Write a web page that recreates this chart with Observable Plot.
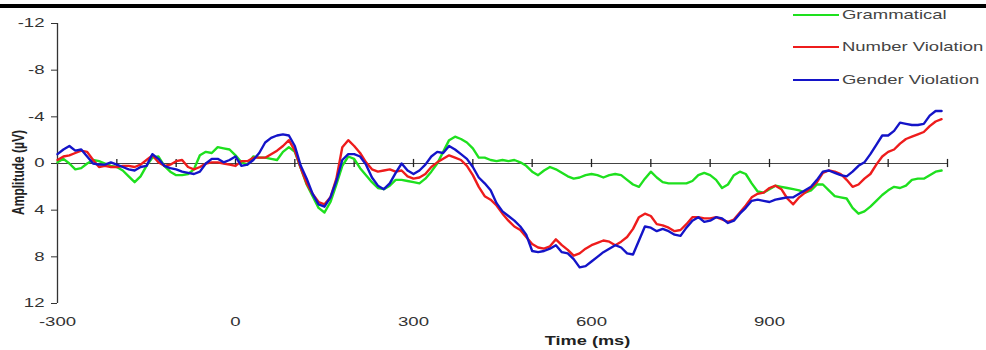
<!DOCTYPE html>
<html>
<head>
<meta charset="utf-8">
<script src="https://cdn.jsdelivr.net/npm/d3@7"></script>
<script src="https://cdn.jsdelivr.net/npm/@observablehq/plot@0.6"></script>
<style>
  body { margin: 0; background: #fff; font-family: "Liberation Sans", Arial, sans-serif; }
  #wrap { position: relative; width: 986px; height: 350px; overflow: hidden; }
  #topbar { position: absolute; left: 0; top: 4px; width: 986px; height: 4px; background: #000; }
  .leg { position: absolute; left: 793px; height: 16px; font-size: 13px; color: #444; white-space: nowrap; }
  .leg .sw { position: absolute; left: 0; top: 7px; width: 46px; height: 2px; }
  .leg .tx { position: absolute; left: 49px; top: 0; line-height: 16px; transform: scaleX(1.42); transform-origin: left center; }
</style>
</head>
<body>
<div id="wrap">
  <div id="chart"></div>
  <div id="topbar"></div>
  <div id="legend"></div>
</div>
<script>
const times = [-300,-290,-280,-270,-260,-250,-240,-230,-220,-210,-200,-190,-180,-170,-160,-150,-140,-130,-120,-110,-100,-90,-80,-70,-60,-50,-40,-30,-20,-10,
0,10,20,30,40,50,60,70,80,90,100,110,120,130,140,150,160,170,180,190,200,210,220,230,240,250,260,270,280,290,
300,310,320,330,340,350,360,370,380,390,400,410,420,430,440,450,460,470,480,490,500,510,520,530,540,550,560,570,580,590,
600,610,620,630,640,650,660,670,680,690,700,710,720,730,740,750,760,770,780,790,800,810,820,830,840,850,860,870,880,890,
900,910,920,930,940,950,960,970,980,990,1000,1010,1020,1030,1040,1050,1060,1070,1080,1090,1100,1110,1120,1130,1140,1150,1160,1170,1180,1190];

const grammatical = [-0.1,-0.4,0,0.5,0.4,0,-0.3,-0.2,0,0.2,0.3,0.6,1.1,1.6,1.1,0.2,-0.5,-0.6,0.2,0.7,1.0,1.0,0.9,0.5,-0.7,-1.0,-0.9,-1.4,-1.3,-1.2,
-0.7,-0.1,0.1,-0.6,-0.5,-0.5,-0.4,-0.3,-1.0,-1.4,-1.0,0.4,1.8,2.8,3.8,4.2,3.3,1.8,0.2,-0.6,-0.4,0.4,1.0,1.6,2.1,2.2,1.9,1.4,1.4,1.5,
1.6,1.7,1.3,0.7,0,-1.0,-2.0,-2.3,-2.1,-1.8,-1.3,-0.5,-0.5,-0.3,-0.2,-0.3,-0.2,-0.3,-0.1,0.2,0.7,1.0,0.6,0.3,0.5,0.8,1.1,1.3,1.2,1.0,
0.9,1.0,1.2,1.0,0.9,1.0,1.4,1.8,2.0,1.3,0.7,1.2,1.6,1.7,1.7,1.7,1.7,1.5,1.0,0.8,1.0,1.4,2.1,1.8,1.0,0.7,0.9,1.7,2.4,2.5,
2.2,1.9,2.0,2.1,2.2,2.3,2.5,2.3,1.8,1.8,2.3,2.8,2.9,3.0,3.8,4.3,4.1,3.7,3.2,2.7,2.3,2.0,2.1,1.9,1.4,1.3,1.3,1.0,0.7,0.6];

const numberViolation = [-0.3,-0.6,-0.7,-0.9,-1.1,-1.0,-0.3,0.3,0.2,0.3,0.3,0.2,0.2,0.3,0.1,-0.3,-0.7,-0.1,0.2,0.1,-0.2,-0.3,0.3,0.5,0.3,0,-0.1,-0.1,0,0.1,
0.2,-0.2,-0.2,-0.5,-0.5,-0.5,-0.8,-1.1,-1.5,-2.0,-1.1,0.4,1.7,2.6,3.3,3.5,2.9,1.3,-1.4,-2.0,-1.5,-0.9,-0.1,0.5,0.7,0.6,0.5,0.7,0.6,1.1,
1.3,1.2,0.9,0.3,-0.1,-0.4,-0.7,-0.5,-0.3,0.2,1.0,2.0,2.8,3.1,3.6,4.3,4.9,5.4,5.7,6.3,6.9,7.2,7.3,7.1,6.5,7.0,7.4,7.9,7.7,7.3,
7.0,6.8,6.6,6.7,7.0,6.7,6.3,5.6,4.6,4.3,4.5,5.2,5.3,5.5,5.8,5.7,5.2,4.6,4.6,4.7,4.7,4.6,4.8,5.0,4.8,4.2,3.6,2.9,2.6,2.5,
2.1,1.9,2.2,3.0,3.5,2.9,2.5,2.1,1.6,0.8,0.6,0.7,0.9,1.4,2.0,1.8,1.3,0.9,0.1,-0.6,-1.0,-1.2,-1.7,-2.1,-2.3,-2.5,-2.7,-3.2,-3.6,-3.8];

const genderViolation = [-0.8,-1.2,-1.5,-1.1,-1.2,-0.6,0,0.1,0.1,-0.1,0.1,0.3,0.5,0.6,0.3,0.2,-0.8,-0.4,0.2,0.4,0.5,0.7,0.8,0.9,0.7,0,-0.4,-0.4,-0.1,-0.3,
-0.6,0.2,0.1,-0.3,-0.9,-1.8,-2.2,-2.4,-2.5,-2.4,-1.5,0.2,1.3,2.6,3.5,3.7,2.9,1.5,-0.3,-0.8,-0.8,-0.6,0.1,1.2,1.9,2.2,1.7,0.8,0,0.6,
0.9,0.6,0.1,-0.6,-1.0,-0.9,-1.5,-1.2,-0.8,-0.4,0.3,1.2,1.7,2.3,3.4,4.1,4.5,4.9,5.4,6.1,7.5,7.6,7.5,7.3,7.0,7.6,7.7,8.2,8.9,8.8,
8.4,8.0,7.6,7.3,7.0,7.2,7.7,7.8,6.6,5.4,5.5,5.8,5.6,5.8,6.1,6.2,5.5,4.9,4.6,5.0,4.9,4.6,4.7,5.1,4.9,4.3,3.8,3.2,3.1,3.2,
3.3,3.1,3.0,2.9,2.9,2.6,2.3,2.0,1.4,0.7,0.6,0.8,1.0,1.1,0.7,0.2,-0.1,-0.8,-1.6,-2.4,-2.4,-2.8,-3.5,-3.4,-3.3,-3.3,-3.4,-4.1,-4.5,-4.5];

const seriesNames = ["Grammatical", "Number Violation", "Gender Violation"];
const seriesColors = ["#1ee01e", "#ee1c1c", "#1414c8"];
const yTicks = [-12, -8, -4, 0, 4, 8, 12];
const xTickLabels = [-300, 0, 300, 600, 900];
const zeroLineTicks = [-200, -100, 0, 100, 200, 300, 400, 500, 600, 700, 800, 900, 1000, 1100, 1200];

const seriesValues = [grammatical, numberViolation, genderViolation];
const rows = [];
seriesNames.forEach((name, s) => {
  times.forEach((t, i) => rows.push({series: name, time: t, value: seriesValues[s][i]}));
});

const fmt = d => String(d);

const chart = Plot.plot({
  width: 986,
  height: 350,
  marginLeft: 57,
  marginRight: 39,
  marginTop: 23,
  marginBottom: 47,
  style: {fontFamily: "'Liberation Sans', Arial, sans-serif", fontSize: "12px", color: "#333", background: "#fff"},
  x: {domain: [-300, 1200]},
  y: {domain: [12, -12]},
  color: {domain: seriesNames, range: seriesColors},
  marks: [
    Plot.axisY({ticks: yTicks, tickFormat: fmt, tickSize: 6, tickPadding: 7, label: null, stroke: "#333", fill: "#333", fontSize: 12}),
    Plot.axisX({ticks: xTickLabels, tickFormat: fmt, tickSize: 0, tickPadding: 14, label: null, fill: "#333", fontSize: 12}),
    Plot.ruleX([-300], {y1: -12, y2: 12, stroke: "#333", strokeWidth: 1.3}),
    Plot.ruleY([0], {x1: -300, x2: 1200, stroke: "#444", strokeWidth: 1.2}),
    Plot.ruleX(zeroLineTicks, {y1: -0.35, y2: 0.35, stroke: "#222", strokeWidth: 1.3}),
    Plot.line(rows, {x: "time", y: "value", z: "series", stroke: "series", strokeWidth: 2.4, curve: "linear"}),
    Plot.text(["Time (ms)"], {frameAnchor: "bottom", dx: 85, dy: 41, fontWeight: "bold", fontSize: 13, fill: "#222"}),
    Plot.text(["Amplitude (µV)"], {frameAnchor: "left", textAnchor: "middle", rotate: -90, dx: -39, dy: 9, fontWeight: "bold", fontSize: 12, fill: "#222"})
  ]
});
document.getElementById("chart").appendChild(chart);

// horizontal stretch of the texts, as in the reference picture
function stretch(t, sx, sy) {
  let tx = 0, ty = 0;
  const ax = t.getAttribute("x"), ay = t.getAttribute("y");
  if (ax !== null && !isNaN(+ax)) { tx = +ax; t.removeAttribute("x"); }
  if (ay !== null && !isNaN(+ay)) { ty = +ay; t.removeAttribute("y"); }
  const tr = t.getAttribute("transform") || "";
  t.setAttribute("transform", `${tr} translate(${tx},${ty}) scale(${sx},${sy})`);
}
chart.querySelectorAll("text").forEach(t => {
  const s = t.textContent;
  if (s === "Amplitude (µV)") stretch(t, 1, 1.3);
  else if (s === "Time (ms)") stretch(t, 1.4, 1);
  else stretch(t, 1.55, 1);
});

const legendTops = [15, 47, 80];
const legend = document.getElementById("legend");
seriesNames.forEach((name, i) => {
  const d = document.createElement("div");
  d.className = "leg";
  d.style.top = (legendTops[i] - 8) + "px";
  d.innerHTML = `<span class="sw" style="background:${seriesColors[i]}"></span><span class="tx">${name}</span>`;
  legend.appendChild(d);
});
</script>
</body>
</html>
